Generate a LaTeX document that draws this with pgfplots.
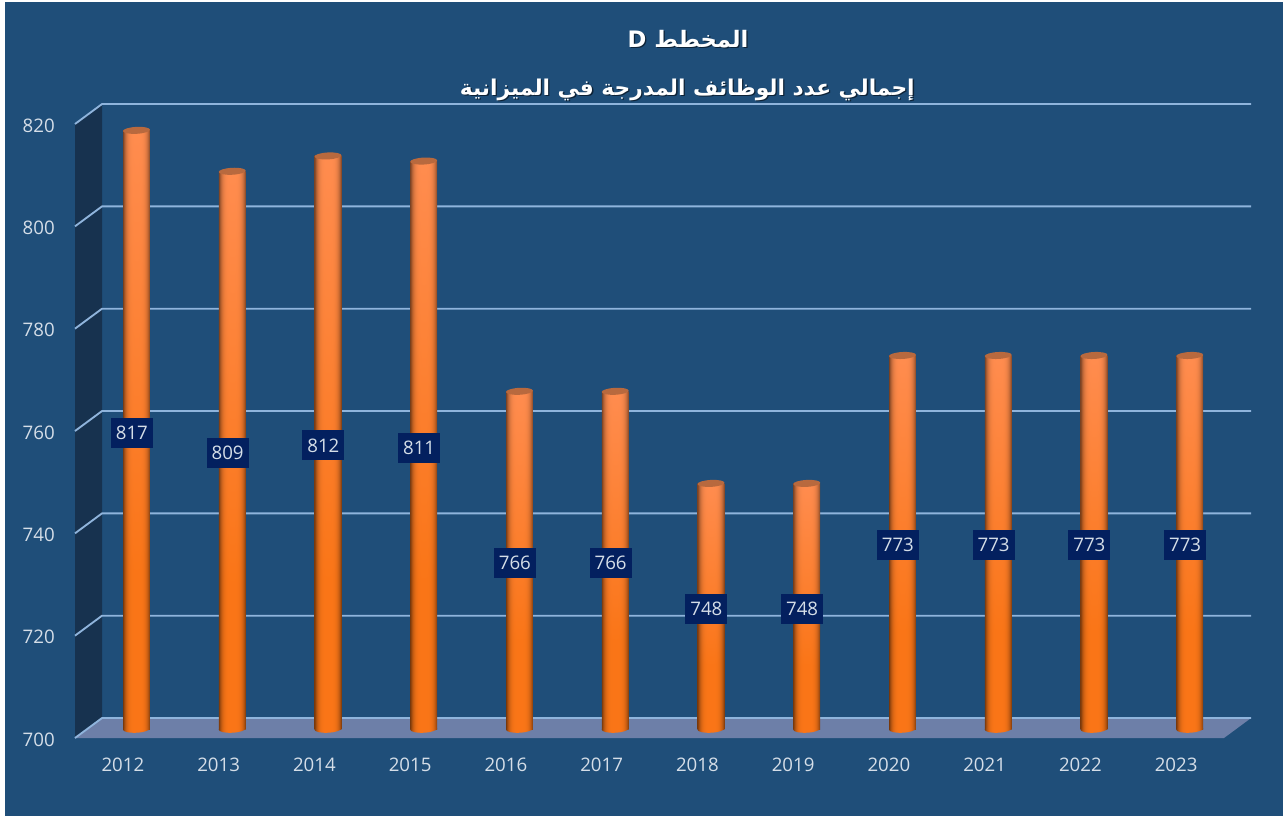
\documentclass[border=0pt]{standalone}
\usepackage{pgfplots}
\pgfplotsset{compat=1.18}
\usepackage{pgfplotstable}
\usepackage{fontspec}
\setmainfont{Open Sans}
\newfontfamily\arabicfont[Script=Arabic]{DejaVu Sans}
\TeXXeTstate=1
\definecolor{bgblue}{HTML}{1F4E79}
\definecolor{wallc}{HTML}{17324F}
\definecolor{floorc}{HTML}{6D7FA8}
\definecolor{gridc}{HTML}{8FB4DC}
\definecolor{boxc}{HTML}{03205F}
\definecolor{tickc}{HTML}{D5DEE8}
\definecolor{capc}{HTML}{B8693E}
% cylinder: x gives the edge darkening, y the fade to a lighter top
% (the visible part of a pgf shading is its middle, -25bp to 25bp)
\pgfdeclarefunctionalshading{cyl}{\pgfpoint{-50bp}{-50bp}}{\pgfpoint{50bp}{50bp}}{}{
  12 add 37 div dup 0 lt {pop 0} if dup 1 gt {pop 1} if
  exch abs 25 div dup 1 gt {pop 1} if dup mul dup mul 0.52 mul 1 exch sub
  exch
  2 copy 0.02 mul 0.98 add mul
  3 1 roll
  2 copy 0.09 mul 0.46 add mul
  3 1 roll
  0.22 mul 0.09 add mul
}
\pgfdeclarefunctionalshading{cylb}{\pgfpoint{-50bp}{-50bp}}{\pgfpoint{50bp}{50bp}}{}{
  pop abs 25 div dup 1 gt {pop 1} if dup mul dup mul 0.52 mul 1 exch sub
  dup 0.98 mul exch dup 0.46 mul exch 0.09 mul
}
\pgfdeclareplotmark{cyltop}{\pgfsetfillcolor{capc}\pgftransformrotate{3}%
  \pgfpathellipse{\pgfpointorigin}{\pgfqpoint{10.1pt}{0pt}}{\pgfqpoint{0pt}{2.6pt}}\pgfusepathqfill}
\pgfdeclareplotmark{cylbase}{\pgftransformrotate{3}%
  \pgfpathellipse{\pgfpointorigin}{\pgfqpoint{10.1pt}{0pt}}{\pgfqpoint{0pt}{2.8pt}}%
  \pgfshadepath{cylb}{0}\pgfusepath{discard}}
\pgfplotstableread{
x v mid
0 817 758.5
1 809 754.5
2 812 756
3 811 755.5
4 766 733
5 766 733
6 748 724
7 748 724
8 773 736.5
9 773 736.5
10 773 736.5
11 773 736.5
}\jobs
\pgfplotstableread{
x base
0 700
1 700
2 700
3 700
4 700
5 700
6 700
7 700
8 700
9 700
10 700
11 700
}\bases
\pgfplotsset{plane/.style={
  scale only axis, width=861.75pt, height=460.5pt,
  xmin=-0.5, xmax=11.5, ymin=700, ymax=820,
  clip=false, anchor=south west},
  cylbar/.style={ybar, bar width=20.2pt, bar shift=0pt, draw=none, shade, shading=cyl}}
\begin{document}
\begin{tikzpicture}
\fill[white] (0,0) rectangle (963.75pt,-612pt);
\fill[bgblue] (3.75pt,-1.5pt) rectangle (962.25pt,-612pt);
% front plane: ticks, wall, floor, grid
\begin{axis}[plane, at={(56.25pt,-553.5pt)},
  axis line style={draw=none},
  xtick={0,1,2,3,4,5,6,7,8,9,10,11},
  xticklabels={2012,2013,2014,2015,2016,2017,2018,2019,2020,2021,2022,2023},
  ytick={700,720,740,760,780,800,820},
  major tick length=0pt,
  /pgf/number format/assume math mode=true,
  tick label style={font=\fontsize{14}{16}\selectfont, text=tickc, inner sep=0pt},
  xticklabel style={anchor=center, yshift=-20.25pt},
  yticklabel style={anchor=east, xshift=-15pt, yshift=-1pt},
]
\addplot[fill=wallc,draw=none] coordinates {(-0.5,700) (-0.218,703.9) (-0.218,823.9) (-0.5,820) (-0.5,700)};
\addplot[fill=floorc,draw=none] coordinates {(-0.5,700) (11.5,700) (11.782,703.9) (-0.218,703.9) (-0.5,700)};
\addplot[gridc,line width=1.4pt] coordinates {(-0.5,700) (-0.218,703.9) (11.782,703.9)};
\addplot[gridc,line width=1.4pt] coordinates {(-0.5,720) (-0.218,723.9) (11.782,723.9)};
\addplot[gridc,line width=1.4pt] coordinates {(-0.5,740) (-0.218,743.9) (11.782,743.9)};
\addplot[gridc,line width=1.4pt] coordinates {(-0.5,760) (-0.218,763.9) (11.782,763.9)};
\addplot[gridc,line width=1.4pt] coordinates {(-0.5,780) (-0.218,783.9) (11.782,783.9)};
\addplot[gridc,line width=1.4pt] coordinates {(-0.5,800) (-0.218,803.9) (11.782,803.9)};
\addplot[gridc,line width=1.4pt] coordinates {(-0.5,820) (-0.218,823.9) (11.782,823.9)};
\end{axis}
% bars, half a depth behind the front plane
\begin{axis}[plane, at={(66.45pt,-546.75pt)}, hide axis]
\addplot[only marks, mark=cylbase] table[x=x,y=base] {\bases};
\addplot[cylbar] coordinates {(0,817)};
\addplot[cylbar] coordinates {(1,809)};
\addplot[cylbar] coordinates {(2,812)};
\addplot[cylbar] coordinates {(3,811)};
\addplot[cylbar] coordinates {(4,766)};
\addplot[cylbar] coordinates {(5,766)};
\addplot[cylbar] coordinates {(6,748)};
\addplot[cylbar] coordinates {(7,748)};
\addplot[cylbar] coordinates {(8,773)};
\addplot[cylbar] coordinates {(9,773)};
\addplot[cylbar] coordinates {(10,773)};
\addplot[cylbar] coordinates {(11,773)};
\addplot[only marks, mark=cyltop] table[x=x,y=v] {\jobs};
\end{axis}
% value labels
\begin{axis}[plane, at={(63pt,-549pt)}, hide axis]
\addplot[draw=none, mark=none, point meta=explicit symbolic,
  nodes near coords,
  nodes near coords align={center},
  nodes near coords style={fill=boxc, text=tickc, inner sep=0pt, anchor=center,
    minimum width=31.5pt, minimum height=22.5pt, font=\fontsize{14}{16}\selectfont}]
  table[x=x,y=mid,meta=v] {\jobs};
\end{axis}
% title
\foreach \dx/\dy/\c in {1pt/-1pt/black!55!bgblue, 0pt/0pt/white}{
\node[text=\c, inner sep=0pt, anchor=center, font=\arabicfont\bfseries\fontsize{17}{20}\selectfont]
  at ({516pt+\dx},{-29.25pt+\dy}) {\beginR المخطط \beginL D\endL\endR};
\node[text=\c, inner sep=0pt, anchor=center, font=\arabicfont\bfseries\fontsize{16.3}{20}\selectfont]
  at ({515.5pt+\dx},{-67.5pt+\dy}) {\beginR إجمالي عدد الوظائف المدرجة في الميزانية\endR};
}
\end{tikzpicture}
\end{document}
